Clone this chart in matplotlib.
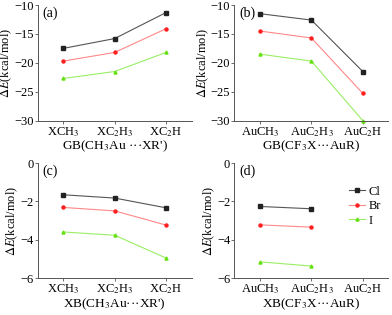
import numpy as np
import matplotlib

matplotlib.use("Agg")
import matplotlib.pyplot as plt

plt.rcParams["font.family"] = ["Liberation Serif", "DejaVu Serif"]
plt.rcParams["mathtext.fontset"] = "stix"

# --------------------------------------------------------------------------- #
# Data (kcal/mol)
# --------------------------------------------------------------------------- #
HALOGENS = ["Cl", "Br", "I"]
TICKS_XR = ["XCH$_3$", "XC$_2$H$_3$", "XC$_2$H"]
TICKS_AU = ["AuCH$_3$", "AuC$_2$H$_3$", "AuC$_2$H"]

GB_CH3AU_CL = [-17.5, -15.8, -11.3]
GB_CH3AU_BR = [-19.7, -18.2, -14.1]
GB_CH3AU_I = [-22.7, -21.5, -18.2]

GB_CF3X_CL = [-11.5, -12.6, -21.5]
GB_CF3X_BR = [-14.5, -15.7, -25.3]
GB_CF3X_I = [-18.5, -19.7, -30.0]

XB_CH3AU_CL = [-1.65, -1.82, -2.33]
XB_CH3AU_BR = [-2.31, -2.49, -3.23]
XB_CH3AU_I = [-3.59, -3.76, -4.95]

XB_CF3X_CL = [-2.26, -2.38]
XB_CF3X_BR = [-3.22, -3.34]
XB_CF3X_I = [-5.15, -5.37]

COLORS = ["#222222", "#ff2020", "#66e010"]
LINE_COLORS = ["#555555", "#ff8888", "#99ee66"]
MARKERS = ["s", "o", "^"]

PANELS = [
    ("(a)", [GB_CH3AU_CL, GB_CH3AU_BR, GB_CH3AU_I], TICKS_XR,
     "GB(CH$_3$Au \u00b7\u00b7\u00b7XR')", (-30, -10), [-30, -25, -20, -15, -10]),
    ("(b)", [GB_CF3X_CL, GB_CF3X_BR, GB_CF3X_I], TICKS_AU,
     "GB(CF$_3$X\u00b7\u00b7\u00b7AuR)", (-30, -10), [-30, -25, -20, -15, -10]),
    ("(c)", [XB_CH3AU_CL, XB_CH3AU_BR, XB_CH3AU_I], TICKS_XR,
     "XB(CH$_3$Au\u00b7\u00b7\u00b7XR')", (-6, 0), [-6, -4, -2, 0]),
    ("(d)", [XB_CF3X_CL, XB_CF3X_BR, XB_CF3X_I], TICKS_AU,
     "XB(CF$_3$X\u00b7\u00b7\u00b7AuR)", (-6, 0), [-6, -4, -2, 0]),
]

RECTS = [
    (0.096, 0.617, 0.393, 0.367),
    (0.598, 0.617, 0.393, 0.367),
    (0.096, 0.117, 0.393, 0.365),
    (0.598, 0.117, 0.393, 0.365),
]

fig = plt.figure(figsize=(3.92, 3.15), dpi=100)

for rect, (tag, series, ticks, xlabel, ylim, yticks) in zip(RECTS, PANELS):
    ax = fig.add_axes(rect)
    for vals, name, c, lc, m in zip(series, HALOGENS, COLORS, LINE_COLORS, MARKERS):
        x = np.arange(1, len(vals) + 1)
        ax.plot(x, vals, color=lc, lw=0.8, marker=m, ms=2.2, mfc=c, mec=c,
                label=name, clip_on=False)
    ax.set_xlim(0.5, 3.5)
    ax.set_ylim(*ylim)
    ax.set_yticks(yticks)
    ax.set_xticks([1, 2, 3])
    ax.set_xticklabels(ticks)
    ax.set_xlabel(xlabel, fontsize=9.5, labelpad=0)
    ax.set_ylabel(r"$\Delta\mathit{E}$(kcal/mol)", fontsize=9, labelpad=0)
    ax.tick_params(labelsize=9, length=2, width=0.6, pad=1, color="#555555")
    for s in ("top", "right"):
        ax.spines[s].set_visible(False)
    for s in ("left", "bottom"):
        ax.spines[s].set_linewidth(0.7)
        ax.spines[s].set_color("#555555")
    ax.text(0.03, 0.99, tag, transform=ax.transAxes, fontsize=10,
            va="top", ha="left")
    if tag == "(d)":
        ax.legend(loc="upper right", bbox_to_anchor=(1.0, 0.87), frameon=False,
                  fontsize=9, handlelength=1.3, handletextpad=0.3,
                  labelspacing=0.2, borderaxespad=0.2)

fig.savefig("out.png", dpi=100)
